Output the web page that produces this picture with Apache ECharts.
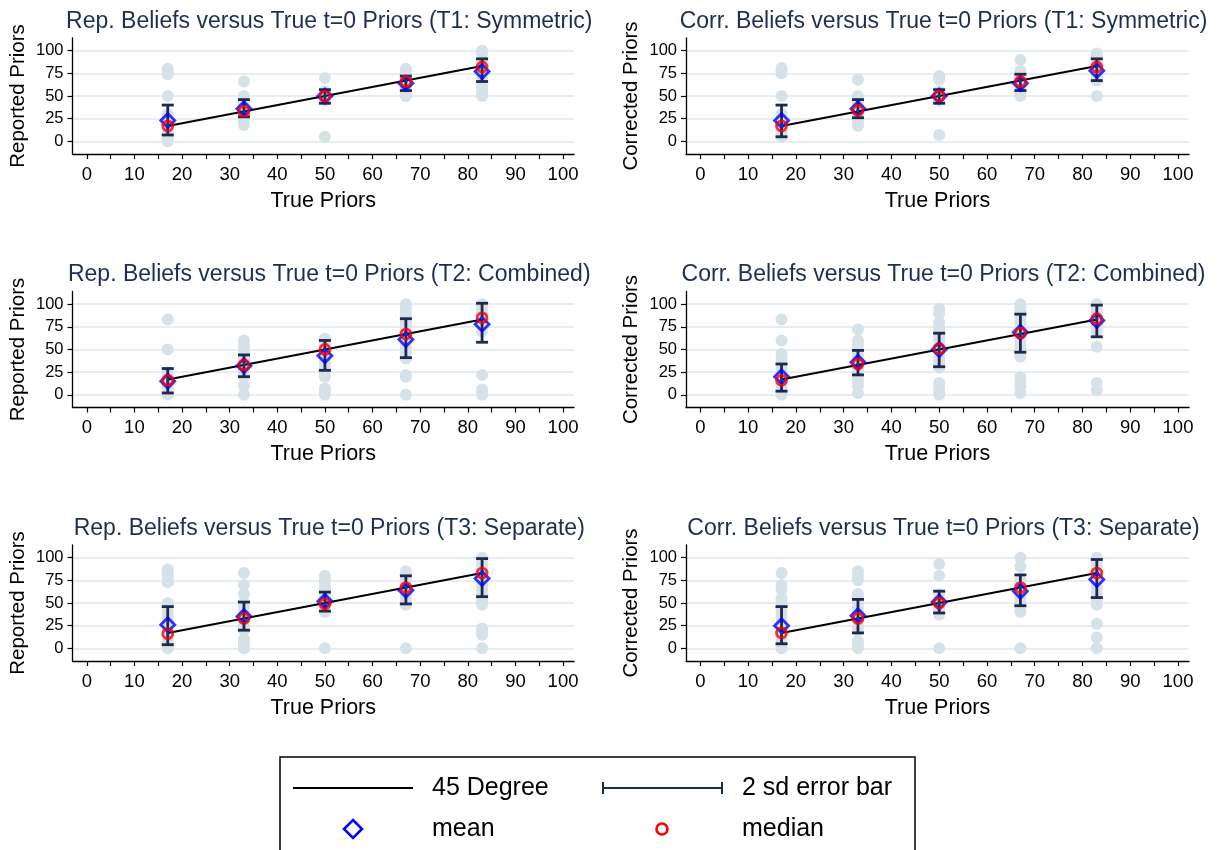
<!DOCTYPE html>
<html><head><meta charset="utf-8">
<script src="https://cdn.jsdelivr.net/npm/echarts@6/dist/echarts.min.js"></script>
<style>html,body{margin:0;padding:0;background:#fff}#c{width:1219px;height:850px}</style>
</head><body><div id="c"></div>
<script>
// ---------- data ----------
const truePriors = [17, 33, 50, 67, 83];
const xTickLabels = [0, 10, 20, 30, 40, 50, 60, 70, 80, 90, 100];
const xTickMarks = [0, 5, 10, 15, 20, 25, 30, 35, 40, 45, 50, 55, 60, 65, 70, 75, 80, 85, 90, 95, 100];
const yTickLabels = [0, 25, 50, 75, 100];

const panelTitles = [
  'Rep. Beliefs versus True t=0 Priors (T1: Symmetric)',
  'Corr. Beliefs versus True t=0 Priors (T1: Symmetric)',
  'Rep. Beliefs versus True t=0 Priors (T2: Combined)',
  'Corr. Beliefs versus True t=0 Priors (T2: Combined)',
  'Rep. Beliefs versus True t=0 Priors (T3: Separate)',
  'Corr. Beliefs versus True t=0 Priors (T3: Separate)'
];
const yAxisTitles = ['Reported Priors', 'Corrected Priors', 'Reported Priors', 'Corrected Priors', 'Reported Priors', 'Corrected Priors'];
const xAxisTitle = 'True Priors';
const legendLabels = ['45 Degree', '2 sd error bar', 'mean', 'median'];

// Panel 1: Reported, T1
const repT1Points = [
  [0, 3, 6, 10, 15, 20, 25, 30, 50, 74, 77, 80],
  [18, 20, 23, 26, 30, 33, 36, 40, 45, 50, 66],
  [5, 45, 50, 55, 70],
  [50, 53, 57, 60, 65, 67, 70, 75, 78, 80],
  [50, 53, 57, 61, 70, 75, 80, 85, 90, 97, 100]
];
const repT1Mean = [23, 36, 50, 64, 77];
const repT1Median = [17, 33, 50, 66, 82];
const repT1Lo = [7, 27, 42, 56, 66];
const repT1Hi = [40, 46, 57, 72, 91];

// Panel 2: Corrected, T1
const corrT1Points = [
  [5, 8, 12, 17, 20, 25, 30, 50, 75, 78, 81],
  [17, 20, 23, 27, 30, 35, 40, 45, 50, 68],
  [7, 45, 50, 55, 68, 72],
  [50, 53, 57, 60, 65, 70, 75, 78, 90],
  [50, 67, 70, 75, 80, 85, 93, 97]
];
const corrT1Mean = [23, 36, 50, 64, 78];
const corrT1Median = [17, 34, 50, 66, 82];
const corrT1Lo = [5, 26, 42, 56, 67];
const corrT1Hi = [40, 46, 57, 74, 91];

// Panel 3: Reported, T2
const repT2Points = [
  [0, 4, 8, 12, 16, 20, 25, 50, 83],
  [0, 10, 20, 25, 30, 35, 40, 45, 50, 55, 60],
  [0, 3, 7, 20, 25, 30, 35, 40, 45, 50, 55, 58, 62],
  [0, 20, 22, 40, 45, 50, 55, 60, 65, 70, 75, 80, 85, 90, 95, 100],
  [0, 3, 6, 22, 70, 75, 80, 85, 90, 95, 100]
];
const repT2Mean = [15, 32, 43, 61, 78];
const repT2Median = [16, 33, 50, 67, 85];
const repT2Lo = [2, 20, 27, 41, 58];
const repT2Hi = [29, 44, 60, 84, 101];

// Panel 4: Corrected, T2
const corrT2Points = [
  [0, 5, 10, 15, 20, 25, 30, 35, 40, 45, 60, 83],
  [2, 10, 15, 20, 25, 30, 35, 40, 45, 50, 55, 60, 72],
  [0, 3, 8, 13, 30, 35, 40, 45, 50, 55, 60, 65, 70, 75, 80, 90, 95],
  [2, 10, 15, 20, 42, 45, 50, 55, 60, 65, 70, 75, 80, 85, 90, 93, 97, 100],
  [5, 13, 53, 70, 75, 80, 85, 90, 95, 100]
];
const corrT2Mean = [20, 36, 50, 69, 82];
const corrT2Median = [16, 34, 51, 68, 84];
const corrT2Lo = [4, 22, 31, 47, 64];
const corrT2Hi = [34, 49, 68, 89, 99];

// Panel 5: Reported, T3
const repT3Points = [
  [0, 5, 10, 15, 20, 25, 30, 35, 40, 45, 50, 73, 77, 80, 84, 87],
  [0, 3, 6, 10, 20, 25, 30, 35, 40, 45, 50, 60, 70, 83],
  [0, 40, 45, 50, 55, 60, 65, 70, 75, 80],
  [0, 48, 52, 56, 60, 65, 70, 75, 80, 85],
  [0, 15, 18, 22, 48, 52, 56, 60, 65, 70, 75, 80, 85, 90, 95, 100]
];
const repT3Mean = [26, 35, 52, 64, 77];
const repT3Median = [16, 33, 49, 67, 83];
const repT3Lo = [4, 20, 41, 49, 57];
const repT3Hi = [46, 51, 62, 80, 99];

// Panel 6: Corrected, T3
const corrT3Points = [
  [0, 5, 10, 15, 20, 25, 30, 35, 40, 45, 50, 55, 65, 70, 83],
  [0, 4, 8, 20, 25, 30, 35, 40, 45, 50, 55, 60, 75, 80, 85],
  [0, 37, 40, 45, 50, 55, 60, 80, 93],
  [0, 40, 45, 50, 55, 60, 65, 70, 75, 90, 100],
  [0, 12, 27, 48, 52, 56, 60, 65, 70, 75, 80, 85, 90, 95, 100]
];
const corrT3Mean = [25, 36, 51, 63, 76];
const corrT3Median = [17, 33, 50, 67, 83];
const corrT3Lo = [5, 17, 39, 47, 56];
const corrT3Hi = [46, 54, 63, 81, 98];

const panels = [
  { points: repT1Points, mean: repT1Mean, median: repT1Median, lo: repT1Lo, hi: repT1Hi },
  { points: corrT1Points, mean: corrT1Mean, median: corrT1Median, lo: corrT1Lo, hi: corrT1Hi },
  { points: repT2Points, mean: repT2Mean, median: repT2Median, lo: repT2Lo, hi: repT2Hi },
  { points: corrT2Points, mean: corrT2Mean, median: corrT2Median, lo: corrT2Lo, hi: corrT2Hi },
  { points: repT3Points, mean: repT3Mean, median: repT3Median, lo: repT3Lo, hi: repT3Hi },
  { points: corrT3Points, mean: corrT3Mean, median: corrT3Median, lo: corrT3Lo, hi: corrT3Hi }
];

// ---------- styling / layout ----------
const FONT = '"Liberation Sans", Arial, Helvetica, sans-serif';
const NAVY = '#1c2a4f';
const TITLE_COLOR = '#1e2d53';
const DOT_COLOR = '#d7e2e8';
const GRID_LINE = '#e6eef1';
const colLeft = [72.5, 686];
const colWidth = [501.5, 503];
const rowTop = [38, 291.5, 545];
const gridH = 116;

const chart = echarts.init(document.getElementById('c'), null, { renderer: 'canvas' });

function renderErrorBar(params, api) {
  const x = api.value(0), lo = api.value(1), hi = api.value(2);
  const pLo = api.coord([x, lo]);
  const pHi = api.coord([x, hi]);
  const hw = 6;
  const style = { stroke: NAVY, lineWidth: 2.8, fill: null };
  return {
    type: 'group',
    children: [
      { type: 'line', shape: { x1: pLo[0], y1: pLo[1], x2: pHi[0], y2: pHi[1] }, style: style },
      { type: 'line', shape: { x1: pLo[0] - hw, y1: pLo[1], x2: pLo[0] + hw, y2: pLo[1] }, style: style },
      { type: 'line', shape: { x1: pHi[0] - hw, y1: pHi[1], x2: pHi[0] + hw, y2: pHi[1] }, style: style }
    ]
  };
}

const grids = [], xAxes = [], yAxes = [], series = [], titles = [];
panels.forEach(function (p, i) {
  const col = i % 2, row = Math.floor(i / 2);
  grids.push({ left: colLeft[col], top: rowTop[row], width: colWidth[col], height: gridH, containLabel: false });
  titles.push({
    text: panelTitles[i],
    left: colLeft[col] + colWidth[col] / 2 + 1,
    top: rowTop[row] - 33,
    textAlign: 'center',
    textStyle: { fontFamily: FONT, fontSize: 23, fontWeight: 'normal', color: TITLE_COLOR }
  });
  xAxes.push({
    type: 'value', gridIndex: i, min: -3, max: 102.3,
    name: xAxisTitle, nameLocation: 'middle', nameGap: 36,
    nameTextStyle: { fontFamily: FONT, fontSize: 21.5, color: '#000' },
    axisLine: { show: true, onZero: false, lineStyle: { color: '#000', width: 1.3 } },
    axisTick: { show: true, length: 5, customValues: xTickMarks, lineStyle: { color: '#000', width: 1.2 } },
    axisLabel: { customValues: xTickLabels, margin: 11, fontFamily: FONT, fontSize: 18.5, color: '#000' },
    splitLine: { show: false }
  });
  yAxes.push({
    type: 'value', gridIndex: i, min: -14, max: 114,
    name: yAxisTitles[i], nameLocation: 'middle', nameGap: 44, nameRotate: 90,
    nameTextStyle: { fontFamily: FONT, fontSize: 20.5, color: '#000' },
    axisLine: { show: true, onZero: false, lineStyle: { color: '#000', width: 1.3 } },
    axisTick: { show: true, length: 5, customValues: yTickLabels, lineStyle: { color: '#000', width: 1.2 } },
    axisLabel: { customValues: yTickLabels, margin: 9, fontFamily: FONT, fontSize: 16.5, color: '#000' },
    splitLine: { show: true, lineStyle: { color: GRID_LINE, width: 2 } }
  });

  const raw = [];
  p.points.forEach(function (arr, k) { arr.forEach(function (v) { raw.push([truePriors[k], v]); }); });
  series.push({
    type: 'scatter', xAxisIndex: i, yAxisIndex: i, z: 1, silent: true,
    symbol: 'circle', symbolSize: 12, itemStyle: { color: DOT_COLOR, opacity: 1 },
    data: raw
  });
  series.push({
    type: 'line', xAxisIndex: i, yAxisIndex: i, z: 2, silent: true,
    showSymbol: false, lineStyle: { color: '#000', width: 2 },
    data: [[truePriors[0], truePriors[0]], [truePriors[truePriors.length - 1], truePriors[truePriors.length - 1]]]
  });
  series.push({
    type: 'custom', xAxisIndex: i, yAxisIndex: i, z: 3, silent: true,
    renderItem: renderErrorBar,
    encode: { x: 0, y: [1, 2] },
    data: truePriors.map(function (x, k) { return [x, p.lo[k], p.hi[k]]; })
  });
  series.push({
    type: 'scatter', xAxisIndex: i, yAxisIndex: i, z: 4, silent: true,
    symbol: 'diamond', symbolSize: 14,
    itemStyle: { color: 'rgba(0,0,0,0)', borderColor: '#0000ff', borderWidth: 2.8 },
    data: truePriors.map(function (x, k) { return [x, p.mean[k]]; })
  });
  series.push({
    type: 'scatter', xAxisIndex: i, yAxisIndex: i, z: 5, silent: true,
    symbol: 'circle', symbolSize: 10,
    itemStyle: { color: 'rgba(0,0,0,0)', borderColor: '#ff0000', borderWidth: 2.8 },
    data: truePriors.map(function (x, k) { return [x, p.median[k]]; })
  });
  series.push({
    type: 'scatter', xAxisIndex: i, yAxisIndex: i, z: 6, silent: true,
    symbol: 'circle', symbolSize: 3.5, itemStyle: { color: '#1f3aa0' },
    data: truePriors.map(function (x, k) { return [x, p.median[k]]; })
  });
});

// ---------- legend (drawn as graphic) ----------
const LX = 280, LY = 757;
const legendText = { fontFamily: FONT, fontSize: 25, fill: '#000', verticalAlign: 'middle' };
const graphic = [
  { type: 'rect', shape: { x: LX, y: LY, width: 635, height: 110 }, style: { fill: '#fff', stroke: '#000', lineWidth: 1.5 }, z: 10 },
  { type: 'line', shape: { x1: 293, y1: 788, x2: 413, y2: 788 }, style: { stroke: '#000', lineWidth: 2.2 }, z: 11 },
  { type: 'text', x: 432, y: 788, style: Object.assign({ text: legendLabels[0] }, legendText), z: 11 },
  { type: 'line', shape: { x1: 603, y1: 788, x2: 722, y2: 788 }, style: { stroke: NAVY, lineWidth: 2 }, z: 11 },
  { type: 'line', shape: { x1: 603, y1: 782, x2: 603, y2: 794 }, style: { stroke: NAVY, lineWidth: 2 }, z: 11 },
  { type: 'line', shape: { x1: 722, y1: 782, x2: 722, y2: 794 }, style: { stroke: NAVY, lineWidth: 2 }, z: 11 },
  { type: 'text', x: 742, y: 788, style: Object.assign({ text: legendLabels[1] }, legendText), z: 11 },
  { type: 'polygon', shape: { points: [[353, 820], [362, 829], [353, 838], [344, 829]] }, style: { fill: 'none', stroke: '#0000ff', lineWidth: 2.6 }, z: 11 },
  { type: 'text', x: 432, y: 829, style: Object.assign({ text: legendLabels[2] }, legendText), z: 11 },
  { type: 'circle', shape: { cx: 662, cy: 829, r: 5.5 }, style: { fill: 'none', stroke: '#ff0000', lineWidth: 2.6 }, z: 11 },
  { type: 'text', x: 742, y: 829, style: Object.assign({ text: legendLabels[3] }, legendText), z: 11 }
];

chart.setOption({
  animation: false,
  backgroundColor: '#fff',
  title: titles,
  grid: grids,
  xAxis: xAxes,
  yAxis: yAxes,
  series: series,
  graphic: graphic
});
</script></body></html>
